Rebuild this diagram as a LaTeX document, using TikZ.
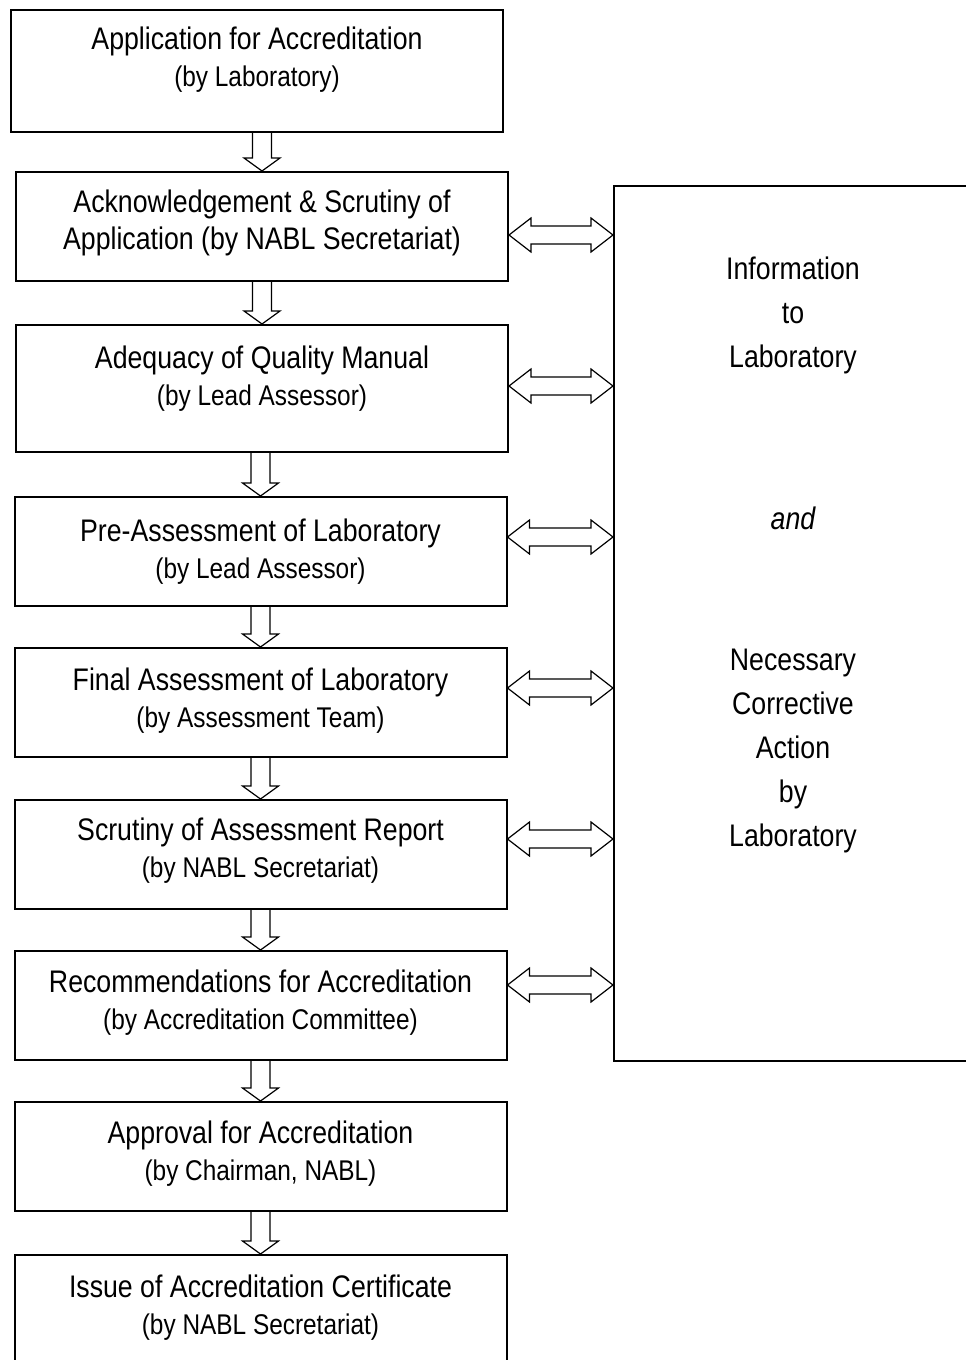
\documentclass[tikz,border=0pt]{standalone}
\usepackage{fontspec}
\setmainfont[FakeStretch=0.856]{Liberation Sans}
\usetikzlibrary{calc}

\tikzset{
  stage/.style={draw, line width=1pt, minimum width=246pt, minimum height=54.5pt, inner sep=0pt},
  caption/.style={align=center, inner sep=0pt, font=\fontsize{15.6}{18.5}\selectfont},
  hollow/.style={draw, line width=0.6pt, line join=miter},
}
\newcommand{\byline}[1]{{\fontsize{14.25}{18.5}\selectfont #1}}

% hollow arrow down from one stage to the next
\newcommand{\flowdown}[2]{%
  \coordinate (top) at (#2.north |- #1.south);
  \draw[hollow] ($(top)+(-9.5,0)$) -- ($(#2.north)+(-9.5,-13)$) -- ($(#2.north)+(-18,-13)$)
    -- (#2.north) -- ($(#2.north)+(18,-13)$) -- ($(#2.north)+(9.5,-13)$) -- ($(top)+(9.5,0)$);}

% hollow double arrow between a stage and the info box
\newcommand{\flowboth}[2]{%
  \coordinate (l) at (#1.east |- 0,#2);
  \coordinate (r) at (info.west |- 0,#2);
  \draw[hollow] (l) -- ($(l)+(22,-17)$) -- ($(l)+(22,-9)$) -- ($(r)+(-22,-9)$) -- ($(r)+(-22,-17)$)
    -- (r) -- ($(r)+(-22,17)$) -- ($(r)+(-22,9)$) -- ($(l)+(22,9)$) -- ($(l)+(22,17)$) -- cycle;}

\begin{document}
\begin{tikzpicture}[x=0.5pt, y=-0.5pt]

\useasboundingbox (0,0) rectangle (965,1360);

\node[stage, minimum height=61pt] (s1) at (257,71) {};
\node[stage] (s2) at (262,226.5) {};
\node[stage, minimum height=63.5pt] (s3) at (262,388.5) {};
\node[stage] (s4) at (260.5,551.5) {};
\node[stage] (s5) at (260.5,702.5) {};
\node[stage] (s6) at (260.5,854.5) {};
\node[stage] (s7) at (260.5,1005.5) {};
\node[stage] (s8) at (260.5,1156.5) {};
\node[stage, minimum height=65pt] (s9) at (260.5,1320) {};

\node[caption] (t1) at (257,60) {Application for Accreditation\\ \byline{(by Laboratory)}};
\node[caption] (t2) at (262,223) {Acknowledgement \& Scrutiny of\\ Application (by NABL Secretariat)};
\node[caption] (t3) at (262,378.5) {Adequacy of Quality Manual\\ \byline{(by Lead Assessor)}};
\node[caption] (t4) at (260.5,551.5) {Pre-Assessment of Laboratory\\ \byline{(by Lead Assessor)}};
\node[caption] (t5) at (260.5,700.5) {Final Assessment of Laboratory\\ \byline{(by Assessment Team)}};
\node[caption] (t6) at (260.5,851) {Scrutiny of Assessment Report\\ \byline{(by NABL Secretariat)}};
\node[caption] (t7) at (260.5,1003) {Recommendations for Accreditation\\ \byline{(by Accreditation Committee)}};
\node[caption] (t8) at (260.5,1154) {Approval for Accreditation\\ \byline{(by Chairman, NABL)}};
\node[caption] (t9) at (260.5,1307.5) {Issue of Accreditation Certificate\\ \byline{(by NABL Secretariat)}};

\node[draw, line width=1pt, minimum width=193pt, minimum height=437.5pt, inner sep=0pt, anchor=north west] (info) at (613,185) {};
\node[caption, font=\fontsize{15.6}{22}\selectfont] (infoa) at (793,315) {Information\\ to\\ Laboratory};
\node[caption] (infob) at (793,518) {\itshape and};
\node[caption, font=\fontsize{15.6}{22}\selectfont] (infoc) at (793,750.5) {Necessary\\ Corrective\\ Action\\ by\\ Laboratory};

\flowdown{s1}{s2}
\flowdown{s2}{s3}
\flowdown{s3}{s4}
\flowdown{s4}{s5}
\flowdown{s5}{s6}
\flowdown{s6}{s7}
\flowdown{s7}{s8}
\flowdown{s8}{s9}

\flowboth{s2}{235}
\flowboth{s3}{386}
\flowboth{s4}{537}
\flowboth{s5}{688}
\flowboth{s6}{839}
\flowboth{s7}{985}

\end{tikzpicture}
\end{document}
